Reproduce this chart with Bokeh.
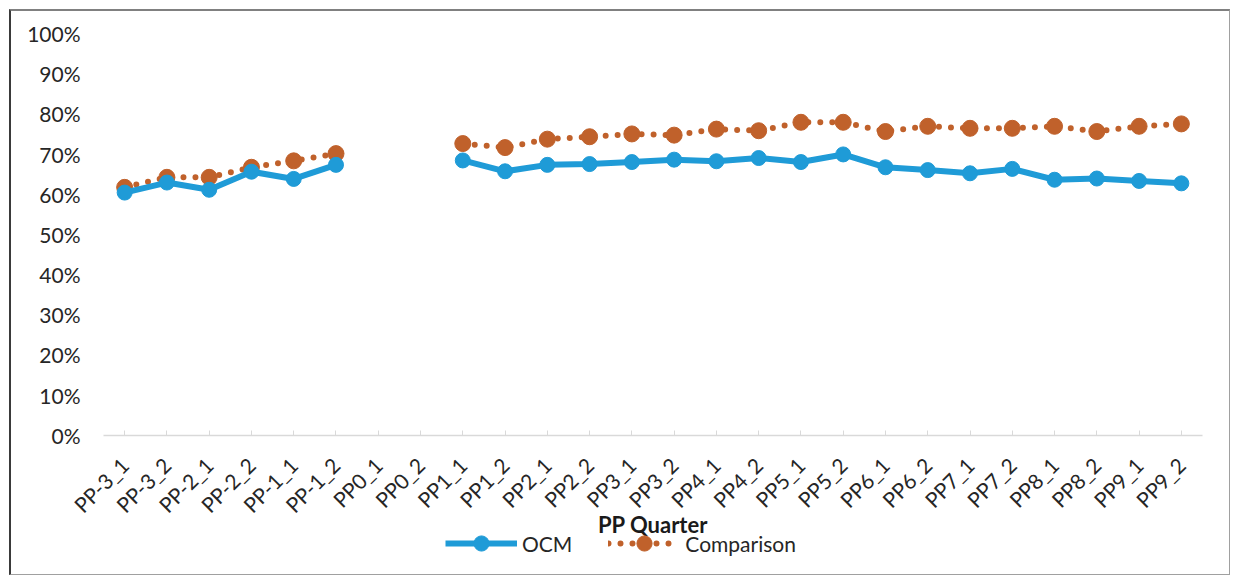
import math
from bokeh.plotting import figure
from bokeh.models import (FactorRange, Range1d, NumeralTickFormatter, Legend,
                          LegendItem, ColumnDataSource, FixedTicker)
from bokeh.embed import file_html
from bokeh.resources import INLINE

nan = float("nan")

quarters = ["PP-3_1", "PP-3_2", "PP-2_1", "PP-2_2", "PP-1_1", "PP-1_2",
            "PP0_1", "PP0_2", "PP1_1", "PP1_2", "PP2_1", "PP2_2",
            "PP3_1", "PP3_2", "PP4_1", "PP4_2", "PP5_1", "PP5_2",
            "PP6_1", "PP6_2", "PP7_1", "PP7_2", "PP8_1", "PP8_2",
            "PP9_1", "PP9_2"]

ocm = [0.604, 0.629, 0.611, 0.656, 0.638, 0.673, nan, nan,
       0.684, 0.657, 0.673, 0.675, 0.680, 0.686, 0.682, 0.690,
       0.680, 0.699, 0.667, 0.660, 0.652, 0.663, 0.636, 0.639,
       0.633, 0.627]

comparison = [0.617, 0.642, 0.642, 0.667, 0.683, 0.701, nan, nan,
              0.726, 0.716, 0.737, 0.743, 0.750, 0.747, 0.762, 0.758,
              0.779, 0.779, 0.756, 0.769, 0.764, 0.764, 0.769, 0.756,
              0.769, 0.775]

y_ticks = [0.0, 0.1, 0.2, 0.3, 0.4, 0.5, 0.6, 0.7, 0.8, 0.9, 1.0]

BLUE = "#1f9bd7"
ORANGE = "#c0612b"
FONT = "Lato"

# layout: the value axis (0..100%) spans PLOT_H pixels; the frame extends
# EXTRA_H pixels further down to hold the category labels and the legend
PLOT_H = 401
EXTRA_H = 142
Y_START = -EXTRA_H / PLOT_H
X_PAD = 0.71  # side padding of the category range, in categories

src = ColumnDataSource(data=dict(q=quarters, ocm=ocm, comp=comparison))

p = figure(x_range=FactorRange(factors=quarters, range_padding=X_PAD,
                               range_padding_units="absolute"),
           y_range=Range1d(Y_START, 1),
           width=1221, height=566, output_backend="svg", toolbar_location=None,
           min_border_left=62, min_border_right=0, min_border_top=22,
           min_border_bottom=0)
p.styles = {"margin-left": "9px", "margin-top": "9px",
            "border-left": "2px solid #3a3a3a", "border-top": "2px solid #808080",
            "border-right": "1px solid #a0a0a0", "border-bottom": "1px solid #a0a0a0"}

p.outline_line_color = None
p.xgrid.grid_line_color = None
p.ygrid.grid_line_color = None

l2 = p.line("q", "comp", source=src, color=ORANGE, line_width=6,
            line_dash="0 12", line_cap="round")
s2 = p.scatter("q", "comp", source=src, size=16, color=ORANGE)
l1 = p.line("q", "ocm", source=src, color=BLUE, line_width=6, line_join="round")
s1 = p.scatter("q", "ocm", source=src, size=15, color=BLUE)

# y axis
p.yaxis.ticker = FixedTicker(ticks=y_ticks)
p.yaxis.formatter = NumeralTickFormatter(format="0%")
p.yaxis.axis_line_color = None
p.yaxis.major_tick_line_color = None
p.yaxis.minor_tick_line_color = None
p.yaxis.major_tick_out = 0
p.yaxis.major_tick_in = 0
p.yaxis.major_label_standoff = -7
p.yaxis.major_label_text_font = FONT
p.yaxis.major_label_text_font_size = "21px"
p.yaxis.major_label_text_color = "#262626"

# x axis, drawn at the 0% line, spanning only the categories
p.xaxis.fixed_location = 0
p.xaxis.bounds = (0, len(quarters))
p.xaxis.axis_line_color = "#d9d9d9"
p.xaxis.axis_line_width = 1.5
p.xaxis.major_tick_line_color = "#d9d9d9"
p.xaxis.major_tick_in = 5
p.xaxis.major_tick_out = 0
p.xaxis.major_label_orientation = math.pi / 4
p.xaxis.major_label_standoff = 26
p.xaxis.major_label_text_font = FONT
p.xaxis.major_label_text_font_size = "21px"
p.xaxis.major_label_text_color = "#262626"
p.xaxis.axis_label = "PP Quarter"
p.xaxis.axis_label_text_font = FONT
p.xaxis.axis_label_text_font_style = "bold"
p.xaxis.axis_label_text_font_size = "22px"
p.xaxis.axis_label_text_color = "#1a1a1a"
p.xaxis.axis_label_standoff = -18

legend = Legend(items=[LegendItem(label="OCM", renderers=[l1, s1]),
                       LegendItem(label="Comparison", renderers=[l2, s2])],
                orientation="horizontal", location=(372, 15),
                border_line_color=None, background_fill_alpha=0,
                padding=0, margin=0, spacing=36, glyph_width=72,
                glyph_height=38, label_standoff=5,
                label_text_font=FONT, label_text_font_size="21px",
                label_text_color="#262626")
p.add_layout(legend, "center")

open("out.html", "w").write(file_html(p, INLINE))
